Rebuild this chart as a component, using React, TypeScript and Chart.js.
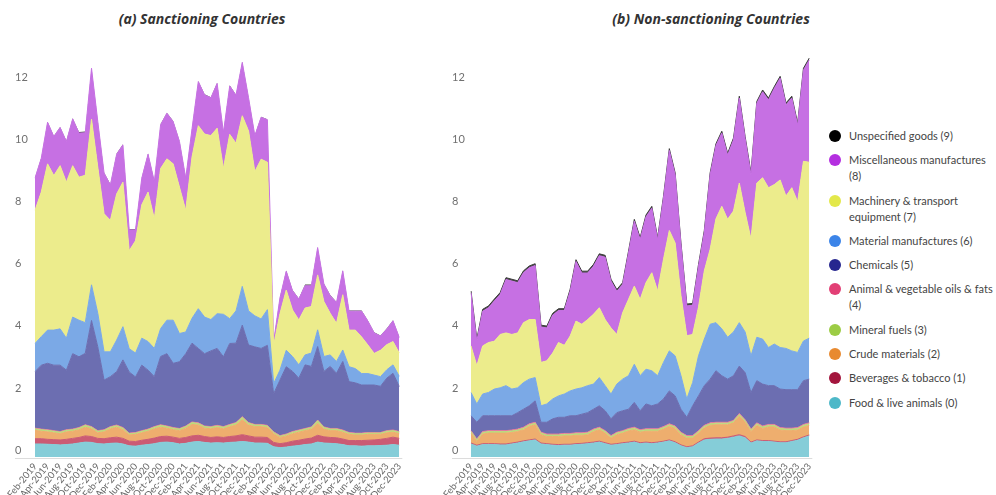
import React, { useEffect, useRef } from 'react';
import { Chart, registerables } from 'chart.js';

Chart.register(...registerables);
Chart.defaults.font.family = 'Lato, "Noto Sans", sans-serif';

// ---- categories: monthly, Feb-2019 .. Dec-2023 ----
const MONTH_NAMES = ['Jan', 'Feb', 'Mar', 'Apr', 'May', 'Jun', 'Jul', 'Aug', 'Sep', 'Oct', 'Nov', 'Dec'];
const FIRST_YEAR = 2019;
const FIRST_MONTH = 1; // Feb
const MONTH_COUNT = 59;
const categories: string[] = [];
for (let k = 0; k < MONTH_COUNT; k++) {
  const m = FIRST_MONTH + k;
  categories.push(`${MONTH_NAMES[m % 12]}-${FIRST_YEAR + Math.floor(m / 12)}`);
}

const Y_TICKS_MAX = 13;
const Y_STEP = 2;

// ---- SITC sections (legend text, one entry per line) ----
const LEGEND_LINES: string[][] = [
  ['Food & live animals (0)'],
  ['Beverages & tobacco (1)'],
  ['Crude materials (2)'],
  ['Mineral fuels (3)'],
  ['Animal & vegetable oils & fats', '(4)'],
  ['Chemicals (5)'],
  ['Material manufactures (6)'],
  ['Machinery & transport', 'equipment (7)'],
  ['Miscellaneous manufactures', '(8)'],
  ['Unspecified goods (9)'],
];
const DOT_COLORS = ['#4db8c8', '#a3153d', '#e88a30', '#9ccc45', '#e23f75', '#27278f', '#3c84e8', '#e3e84a', '#b42fe0', '#000000'];
const FILL_COLORS = ['#85cdd8', '#cb5b74', '#eeae6e', '#badc7e', '#e8799e', '#6c6eb1', '#7ba9e6', '#ecec8c', '#c670e3', '#4a4a4a'];

// ---- (a) Sanctioning countries ----
const sFood = [0.42,0.42,0.41,0.4,0.39,0.4,0.42,0.45,0.48,0.47, 0.43,0.42,0.44,0.45,0.42,0.36,0.35,0.38,0.4,0.43, 0.47,0.48,0.46,0.42,0.44,0.48,0.5,0.47,0.45,0.46, 0.45,0.47,0.48,0.5,0.48,0.45,0.45,0.44,0.33,0.3, 0.32,0.35,0.37,0.4,0.42,0.48,0.45,0.44,0.43,0.4, 0.36,0.36,0.35,0.36,0.36,0.37,0.38,0.4,0.38];
const sBeverages = [0.17,0.17,0.16,0.16,0.16,0.17,0.18,0.18,0.2,0.19, 0.17,0.17,0.18,0.19,0.18,0.15,0.15,0.16,0.17,0.18, 0.19,0.19,0.18,0.18,0.19,0.2,0.2,0.19,0.18,0.19, 0.18,0.19,0.2,0.22,0.2,0.19,0.19,0.19,0.14,0.13, 0.14,0.16,0.17,0.18,0.19,0.22,0.2,0.19,0.19,0.18, 0.17,0.17,0.18,0.18,0.19,0.2,0.22,0.24,0.22];
const sCrude = [0.27,0.24,0.24,0.22,0.2,0.24,0.23,0.25,0.28,0.25, 0.18,0.22,0.29,0.32,0.28,0.2,0.23,0.24,0.26,0.3, 0.3,0.26,0.24,0.25,0.3,0.37,0.33,0.27,0.28,0.3, 0.28,0.32,0.35,0.48,0.35,0.34,0.34,0.32,0.28,0.2, 0.22,0.24,0.26,0.27,0.29,0.39,0.25,0.22,0.23,0.22, 0.2,0.18,0.18,0.19,0.18,0.16,0.18,0.16,0.15];
const sMineral = [0.05,0.05,0.05,0.05,0.05,0.05,0.05,0.05,0.06,0.05, 0.05,0.05,0.05,0.05,0.05,0.04,0.04,0.05,0.05,0.05, 0.06,0.05,0.05,0.05,0.05,0.06,0.05,0.05,0.05,0.05, 0.05,0.05,0.06,0.08,0.06,0.05,0.05,0.05,0.04,0.04, 0.04,0.05,0.05,0.05,0.05,0.08,0.05,0.05,0.05,0.05, 0.04,0.04,0.04,0.04,0.04,0.04,0.05,0.05,0.05];
const sOils = [0.02,0.02,0.02,0.02,0.02,0.02,0.02,0.02,0.02,0.02, 0.02,0.02,0.02,0.02,0.02,0.02,0.02,0.02,0.02,0.02, 0.02,0.02,0.02,0.02,0.02,0.02,0.02,0.02,0.02,0.02, 0.02,0.02,0.02,0.02,0.02,0.02,0.02,0.02,0.02,0.02, 0.02,0.02,0.02,0.02,0.02,0.02,0.02,0.02,0.02,0.02, 0.02,0.02,0.02,0.02,0.02,0.02,0.02,0.02,0.02];
const sChemicals = [1.82,2.06,2.14,2.11,2.14,1.92,2.43,2.28,2.3,3.42, 2.7,1.6,1.61,1.72,2.18,1.97,1.79,2.11,1.9,1.61, 2.2,2.33,2.07,2.15,2.33,2.54,2.4,2.33,2.44,2.48, 2.25,2.61,2.56,2.95,2.5,2.5,2.45,2.58,1.23,1.79, 2.17,1.94,1.67,2.05,1.95,2.37,1.79,2.0,1.78,2.21, 1.64,1.62,1.55,1.53,1.53,1.49,1.69,1.83,1.45];
const sMaterial = [0.91,0.92,1.07,1.13,1.17,1.03,1.18,1.18,0.99,1.15, 1.08,0.91,0.8,1.02,1.07,0.75,0.77,0.87,0.92,0.91, 0.9,1.08,1.39,0.91,0.7,0.8,1.28,1.18,1.01,1.12, 1.37,0.8,1.04,1.25,1.1,1.0,0.95,1.15,0.33,0.32, 0.53,0.48,0.43,0.32,0.43,0.54,0.48,0.37,0.38,0.37, 0.48,0.46,0.37,0.37,0.32,0.31,0.27,0.27,0.33];
const sMachinery = [4.29,4.66,5.36,4.98,5.26,5.03,4.88,4.61,4.75,5.34, 4.71,4.45,4.24,4.71,4.66,3.16,3.62,4.3,4.82,4.18, 5.16,5.2,5.04,4.72,3.92,5.2,5.9,5.9,5.93,5.98, 4.7,5.94,5.4,5.5,5.8,4.65,5.15,4.75,1.24,1.82, 1.94,1.5,1.45,1.51,1.5,1.77,1.77,1.34,1.23,1.78, 1.18,1.24,1.18,0.92,0.7,0.85,0.81,0.75,0.75];
const sMisc = [1.04,1.09,1.34,1.26,1.23,1.31,1.51,1.42,1.37,1.64, 1.47,1.31,1.14,1.28,1.2,0.67,0.35,0.86,1.22,1.2, 1.41,1.47,1.36,1.47,1.04,0.91,1.42,1.26,1.22,1.44, 1.16,1.56,1.55,1.72,1.07,1.16,1.35,1.37,0.12,0.51, 0.61,0.62,0.67,0.72,0.67,0.88,0.56,0.57,0.67,0.77, 0.61,0.61,0.83,0.77,0.66,0.46,0.5,0.67,0.5];
const sUnspecified = [0.02,0.02,0.02,0.02,0.02,0.02,0.02,0.04,0.04,0.02, 0.02,0.02,0.02,0.02,0.02,0.02,0.02,0.02,0.02,0.02, 0.02,0.02,0.02,0.02,0.02,0.02,0.02,0.02,0.02,0.02, 0.02,0.02,0.02,0.02,0.02,0.02,0.02,0.02,0.02,0.02, 0.02,0.02,0.02,0.04,0.04,0.02,0.02,0.02,0.02,0.02, 0.02,0.02,0.02,0.02,0.02,0.02,0.02,0.02,0.02];

// ---- (b) Non-sanctioning countries ----
const nFood = [0.42,0.35,0.4,0.4,0.4,0.39,0.39,0.42,0.45,0.49, 0.52,0.55,0.42,0.4,0.38,0.37,0.38,0.38,0.4,0.41, 0.43,0.45,0.48,0.43,0.38,0.4,0.43,0.45,0.48,0.43, 0.45,0.43,0.45,0.48,0.52,0.46,0.36,0.3,0.33,0.45, 0.55,0.57,0.58,0.58,0.6,0.64,0.68,0.62,0.45,0.52, 0.5,0.5,0.48,0.46,0.46,0.5,0.54,0.62,0.68];
const nBeverages = [0.03,0.03,0.03,0.03,0.03,0.03,0.03,0.03,0.03,0.03, 0.03,0.03,0.03,0.03,0.03,0.03,0.03,0.03,0.03,0.03, 0.03,0.03,0.03,0.03,0.03,0.03,0.03,0.03,0.03,0.03, 0.03,0.03,0.03,0.03,0.03,0.03,0.03,0.03,0.03,0.03, 0.04,0.04,0.04,0.04,0.04,0.04,0.04,0.04,0.03,0.03, 0.03,0.03,0.03,0.03,0.03,0.03,0.03,0.03,0.03];
const nCrude = [0.32,0.12,0.31,0.34,0.34,0.35,0.35,0.34,0.34,0.36, 0.44,0.46,0.27,0.23,0.25,0.26,0.27,0.27,0.27,0.26, 0.26,0.34,0.37,0.31,0.2,0.29,0.31,0.36,0.37,0.34, 0.35,0.37,0.35,0.39,0.44,0.43,0.33,0.28,0.25,0.29, 0.35,0.41,0.42,0.42,0.4,0.42,0.6,0.46,0.34,0.47, 0.39,0.44,0.46,0.38,0.36,0.32,0.3,0.32,0.31];
const nMineral = [0.05,0.05,0.05,0.05,0.05,0.05,0.05,0.05,0.05,0.05, 0.05,0.05,0.05,0.05,0.05,0.05,0.05,0.05,0.05,0.05, 0.05,0.05,0.05,0.05,0.05,0.05,0.05,0.05,0.05,0.05, 0.05,0.05,0.05,0.05,0.05,0.05,0.05,0.05,0.05,0.05, 0.05,0.05,0.05,0.05,0.05,0.05,0.05,0.05,0.05,0.05, 0.05,0.05,0.05,0.05,0.05,0.05,0.05,0.05,0.05];
const nOils = [0.03,0.03,0.03,0.03,0.03,0.03,0.03,0.03,0.03,0.03, 0.03,0.03,0.03,0.03,0.03,0.03,0.03,0.03,0.03,0.03, 0.03,0.03,0.03,0.03,0.03,0.03,0.03,0.03,0.03,0.03, 0.03,0.03,0.03,0.03,0.03,0.03,0.03,0.03,0.03,0.03, 0.03,0.03,0.03,0.03,0.03,0.03,0.03,0.03,0.03,0.03, 0.03,0.03,0.03,0.03,0.03,0.03,0.03,0.03,0.03];
const nChemicals = [0.48,0.54,0.51,0.48,0.48,0.48,0.48,0.46,0.53,0.58, 0.58,0.69,0.32,0.38,0.49,0.54,0.52,0.57,0.55,0.6, 0.63,0.64,0.69,0.64,0.54,0.63,0.64,0.62,0.8,0.61, 0.8,0.74,0.8,0.89,1.06,0.97,0.74,0.59,0.96,1.12, 1.28,1.41,1.66,1.5,1.39,1.44,1.53,1.52,1.18,1.36, 1.35,1.25,1.25,1.24,1.24,1.24,1.22,1.41,1.41];
const nMaterial = [0.75,0.59,0.7,0.75,0.86,0.9,0.97,0.86,0.8,0.86, 0.86,0.75,0.53,0.59,0.64,0.69,0.75,0.8,0.86,0.85, 0.87,0.81,0.91,0.81,0.8,0.92,1.02,1.08,1.23,1.13, 1.12,1.13,0.91,1.18,1.29,1.29,1.08,0.59,0.75,1.29, 1.5,1.77,1.55,1.51,1.35,1.41,1.4,1.31,1.18,1.4, 1.45,1.23,1.34,1.34,1.33,1.25,1.2,1.28,1.32];
const nMachinery = [1.5,1.23,1.55,1.61,1.54,1.72,1.7,1.76,1.77,1.93, 1.92,1.87,1.4,1.39,1.48,1.72,1.57,1.77,2.19,2.05, 2.13,2.25,2.25,2.13,2.13,1.6,2.14,2.46,2.52,2.46, 2.79,3.16,2.73,3.32,3.88,3.64,2.58,2.04,1.55,1.57, 2.2,2.42,3.35,3.95,3.8,3.9,4.5,3.85,3.77,4.97, 5.2,5.15,5.14,5.4,4.91,5.26,4.86,5.79,5.67];
const nMisc = [1.71,0.8,1.12,1.12,1.3,1.29,1.72,1.72,1.62,1.61, 1.67,1.74,1.14,1.06,1.22,1.03,1.12,1.45,1.92,1.65, 1.5,1.55,1.68,2.01,1.51,1.39,0.91,1.49,2.09,1.93, 2.12,2.08,1.66,1.97,2.58,2.2,1.64,0.96,0.94,1.31, 1.24,2.4,2.36,2.36,2.07,2.29,2.74,2.39,2.07,2.57, 2.77,2.83,3.1,3.28,2.94,2.89,2.47,2.94,3.3];
const nUnspecified = [0.06,0.06,0.06,0.06,0.06,0.06,0.06,0.06,0.06,0.06, 0.06,0.06,0.06,0.06,0.06,0.06,0.06,0.06,0.06,0.06, 0.06,0.06,0.06,0.06,0.06,0.06,0.06,0.06,0.06,0.06, 0.06,0.06,0.06,0.06,0.06,0.06,0.06,0.06,0.06,0.06, 0.06,0.06,0.06,0.06,0.06,0.06,0.06,0.06,0.06,0.06, 0.06,0.06,0.06,0.06,0.06,0.06,0.06,0.06,0.06];

const SANCTIONING = [sFood, sBeverages, sCrude, sMineral, sOils, sChemicals, sMaterial, sMachinery, sMisc, sUnspecified];
const NON_SANCTIONING = [nFood, nBeverages, nCrude, nMineral, nOils, nChemicals, nMaterial, nMachinery, nMisc, nUnspecified];

// thin grey baseline running under the y labels and the plot
const baselinePlugin = {
  id: 'baseline',
  afterDraw(chart: any) {
    const { ctx, chartArea } = chart;
    const y = Math.round(chartArea.bottom) + 1.5;
    ctx.save();
    ctx.strokeStyle = '#dcdcdc';
    ctx.lineWidth = 1;
    ctx.beginPath();
    ctx.moveTo(15, y);
    ctx.lineTo(chartArea.right + 3, y);
    ctx.stroke();
    ctx.restore();
  },
};

const CANVAS_TOP = 30;
const CANVAS_HEIGHT = 465;

type PanelProps = {
  series: number[][];
  left: number;
  width: number;
  axisWidth: number;
  padRight: number;
  topLine: boolean;
};

function StackedPanel({ series, left, width, axisWidth, padRight, topLine }: PanelProps) {
  const ref = useRef<HTMLCanvasElement>(null);

  useEffect(() => {
    if (!ref.current) return;
    const chart = new Chart(ref.current, {
      type: 'line',
      data: {
        labels: categories,
        datasets: series.map((values, k) => ({
          label: LEGEND_LINES[k].join(' '),
          data: values,
          backgroundColor: FILL_COLORS[k],
          borderColor: k === 9 ? (topLine ? '#3c3c3c' : 'rgba(0,0,0,0)') : FILL_COLORS[k],
          borderWidth: 1,
          pointRadius: 0,
          pointHoverRadius: 0,
          tension: 0,
          fill: k === 0 ? 'origin' : '-1',
        })),
      },
      options: {
        animation: false,
        responsive: false,
        events: [],
        layout: { padding: { left: 15, top: 23.7, right: padRight, bottom: 0 } },
        plugins: {
          legend: { display: false },
          tooltip: { enabled: false },
        },
        scales: {
          x: {
            grid: { display: false, drawTicks: false },
            border: { display: false },
            ticks: {
              autoSkip: false,
              minRotation: 51,
              maxRotation: 51,
              padding: 4,
              color: '#666666',
              font: { size: 9.5 },
              callback: (_v: any, i: number) => (i % 2 === 0 ? categories[i] : ''),
            },
            afterFit: (s: any) => {
              s.height = 38;
              s.paddingLeft = 0;
              s.paddingRight = 0;
            },
          },
          y: {
            stacked: true,
            min: 0,
            max: Y_TICKS_MAX,
            grid: { display: false, drawTicks: false },
            border: { display: false },
            ticks: {
              stepSize: Y_STEP,
              includeBounds: false,
              crossAlign: 'far',
              labelOffset: -7,
              padding: 0,
              color: '#707070',
              font: { size: 11 },
            },
            afterFit: (s: any) => {
              s.width = axisWidth;
            },
          },
        },
      },
      plugins: [baselinePlugin],
    } as any);
    return () => chart.destroy();
  }, []);

  return (
    <canvas
      ref={ref}
      width={width}
      height={CANVAS_HEIGHT}
      style={{ position: 'absolute', left, top: CANVAS_TOP, width, height: CANVAS_HEIGHT }}
    />
  );
}

const titleStyle: React.CSSProperties = {
  position: 'absolute',
  top: 8,
  height: 22,
  lineHeight: '22px',
  textAlign: 'center',
  fontFamily: '"Open Sans", sans-serif',
  fontWeight: 700,
  fontStyle: 'italic',
  fontSize: 14,
  color: '#333333',
};

function Legend() {
  const order = [9, 8, 7, 6, 5, 4, 3, 2, 1, 0];
  return (
    <div style={{ position: 'absolute', left: 829, top: 128, width: 165 }}>
      {order.map((k) => (
        <div key={k} style={{ display: 'flex', alignItems: 'flex-start', marginBottom: 8.3 }}>
          <span
            style={{
              width: 12,
              height: 12,
              borderRadius: '50%',
              background: DOT_COLORS[k],
              marginTop: 2,
              marginRight: 8,
              flex: '0 0 auto',
            }}
          />
          <span
            style={{
              fontFamily: 'Lato, sans-serif',
              fontSize: 11,
              lineHeight: '16px',
              color: '#444444',
              whiteSpace: 'nowrap',
            }}
          >
            {LEGEND_LINES[k].map((line, j) => (
              <React.Fragment key={j}>
                {j > 0 && <br />}
                {line}
              </React.Fragment>
            ))}
          </span>
        </div>
      ))}
    </div>
  );
}

export default function App() {
  return (
    <div
      style={{
        position: 'absolute',
        left: 0,
        top: 0,
        width: 996,
        height: 495,
        background: '#ffffff',
        overflow: 'hidden',
      }}
    >
      <div style={{ ...titleStyle, left: 0, width: 404 }}>(a) Sanctioning Countries</div>
      <div style={{ ...titleStyle, left: 560, width: 302 }}>(b) Non-sanctioning Countries</div>
      <StackedPanel series={SANCTIONING} left={0} width={412} axisWidth={20} padRight={12.7} topLine={false} />
      <StackedPanel series={NON_SANCTIONING} left={437} width={380} axisWidth={19} padRight={7.7} topLine={true} />
      <Legend />
    </div>
  );
}
